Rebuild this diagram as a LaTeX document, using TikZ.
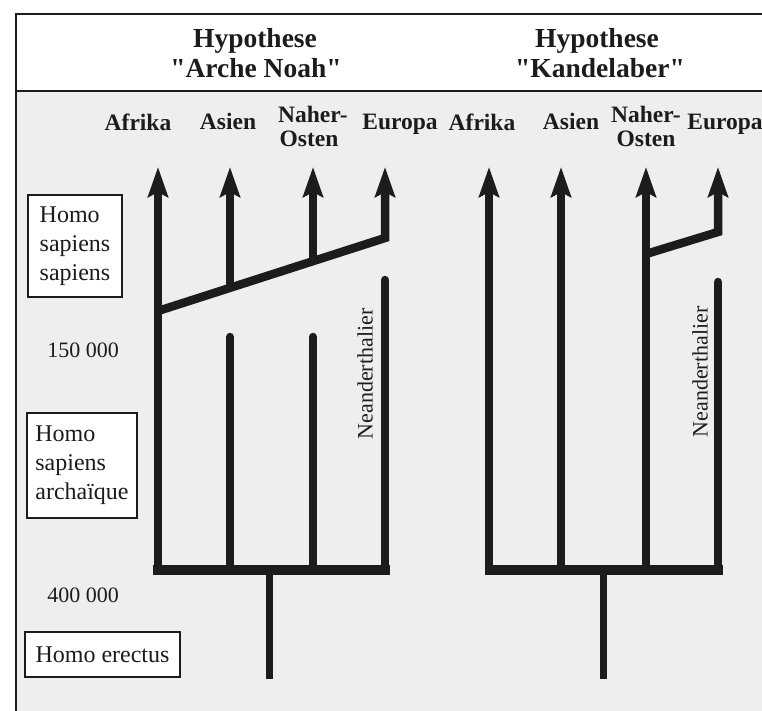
\documentclass[tikz,border=0pt]{standalone}
\usepackage{fontspec}
\setmainfont{Liberation Serif}
\newfontfamily\titlefont{Liberation Serif}
\usetikzlibrary{arrows.meta}
\definecolor{ink}{HTML}{1C1C1C}
\definecolor{paper}{HTML}{EEEEEE}
\begin{document}
\begin{tikzpicture}[x=1pt,y=-1pt,
  frameline/.style={draw=ink, line width=2pt},
  branch/.style={draw=ink, line width=8.5pt, line join=miter},
  arrowed/.style={branch, -{Stealth[length=30pt,width=20pt,inset=5pt]}},
  stub/.style={branch, line cap=round},
  bar/.style={draw=ink, line width=10pt},
  stem/.style={draw=ink, line width=7pt},
  title/.style={font=\titlefont\fontsize{27.5}{30}\selectfont\bfseries, text=ink, anchor=base, inner sep=0pt},
  region/.style={font=\fontsize{23.5}{26}\selectfont\bfseries, text=ink, anchor=base, inner sep=0pt},
  age/.style={font=\fontsize{22}{26}\selectfont, text=ink, anchor=base, inner sep=0pt},
  species/.style={draw=ink, line width=1.6pt, fill=white, font=\fontsize{24}{29}\selectfont, text=ink, align=left, inner sep=0pt},
  neander/.style={font=\fontsize{22}{26}\selectfont, text=ink, rotate=90, inner sep=0pt},
]
\useasboundingbox (0,0) rectangle (762,711);
\fill[paper] (16,91) rectangle (770,720);
\draw[frameline] (16,720) -- (16,14) -- (770,14);
\draw[frameline] (16,91) -- (770,91);

% titles
\node[title] (t1a) at (255,48) {Hypothese};
\node[title] (t1b) at (256,78) {"Arche Noah"};
\node[title] (t2a) at (597,48) {Hypothese};
\node[title] (t2b) at (600,78) {"Kandelaber"};

% region labels
\node[region] (r1) at (138,131) {Afrika};
\node[region] (r2) at (228,130) {Asien};
\node[region] (r3) at (313,123) {Naher-};
\node[region] (r3b) at (309,147) {Osten};
\node[region] (r4) at (400,130) {Europa};
\node[region] (r5) at (482,131) {Afrika};
\node[region] (r6) at (571,130) {Asien};
\node[region] (r7) at (646,123) {Naher-};
\node[region] (r7b) at (646,147) {Osten};
\node[region] (r8) at (725,130) {Europa};

% species boxes and ages
\node[species, minimum width=94pt, minimum height=102pt] (hss) at (75,246) {Homo\\sapiens\\sapiens};
\node[age] (y150) at (83,357) {150 000};
\node[species, minimum width=110pt, minimum height=105pt] (hsa) at (82,465.5) {Homo\\sapiens\\archaïque};
\node[age] (y400) at (83,602) {400 000};
\node[species, minimum width=155pt, minimum height=45pt] (her) at (102.5,654.5) {Homo erectus};

% ---- group 1: Arche Noah
\coordinate (a1top) at (158,167); \coordinate (a1bot) at (158,570); \coordinate (a1fork) at (158,311);
\coordinate (as1top) at (230,167); \coordinate (as1j) at (230,288); \coordinate (as1low) at (230,337); \coordinate (as1bot) at (230,570);
\coordinate (n1top) at (313,167); \coordinate (n1j) at (313,261); \coordinate (n1low) at (313,337); \coordinate (n1bot) at (313,570);
\coordinate (e1top) at (385,167); \coordinate (e1j) at (385,238); \coordinate (ne1) at (385,280); \coordinate (e1bot) at (385,570);
\coordinate (bar1l) at (152.5,570); \coordinate (bar1r) at (389.5,570);
\coordinate (s1top) at (269,570); \coordinate (s1bot) at (269,679);

\draw[arrowed] (a1bot) -- (a1top);
\draw[arrowed] (a1fork) -- (e1j) -- (e1top);
\draw[arrowed] (as1j) -- (as1top);
\draw[arrowed] (n1j) -- (n1top);
\draw[stub] (as1bot) -- (as1low);
\draw[stub] (n1bot) -- (n1low);
\draw[stub] (e1bot) -- (ne1);
\draw[bar] (bar1l) -- (bar1r);
\draw[stem] (s1top) -- (s1bot);
\node[neander] (nd1) at (365,374) {Neanderthalier};

% ---- group 2: Kandelaber
\coordinate (a2top) at (489,167); \coordinate (a2bot) at (489,570);
\coordinate (as2top) at (561,167); \coordinate (as2bot) at (561,570);
\coordinate (n2top) at (646,167); \coordinate (n2j) at (646,254); \coordinate (n2bot) at (646,570);
\coordinate (e2top) at (718,167); \coordinate (e2j) at (718,232); \coordinate (ne2) at (718,282); \coordinate (e2bot) at (718,570);
\coordinate (bar2l) at (484.5,570); \coordinate (bar2r) at (722.5,570);
\coordinate (s2top) at (603,570); \coordinate (s2bot) at (603,679);

\draw[arrowed] (a2bot) -- (a2top);
\draw[arrowed] (as2bot) -- (as2top);
\draw[arrowed] (n2bot) -- (n2top);
\draw[arrowed] (n2j) -- (e2j) -- (e2top);
\draw[stub] (e2bot) -- (ne2);
\draw[bar] (bar2l) -- (bar2r);
\draw[stem] (s2top) -- (s2bot);
\node[neander] (nd2) at (700,372) {Neanderthalier};
\end{tikzpicture}
\end{document}
